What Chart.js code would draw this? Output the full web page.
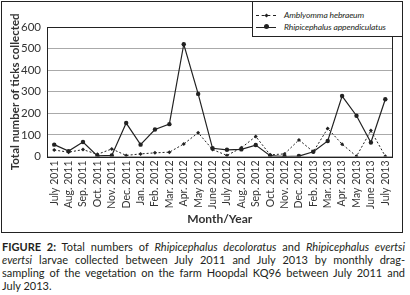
<!DOCTYPE html>
<html>
<head>
<meta charset="utf-8">
<script src="https://cdn.jsdelivr.net/npm/chart.js@4"></script>
<style>
  body { margin: 0; background: #fff; width: 410px; height: 295px; position: relative; overflow: hidden; font-family: Lato, sans-serif; color: #231f20; }
  #frame { position: absolute; left: 1px; top: 1px; width: 402px; height: 232px; box-sizing: border-box; border: 1px solid #222; }
  #frame canvas { position: absolute; left: 0; top: 0; }
  #legend { position: absolute; left: 252px; top: 1px; width: 151px; height: 36px; box-sizing: border-box; border: 1px solid #222; background: #fff; font-style: italic; font-size: 8.5px; letter-spacing: -0.1px; }
  .row { position: absolute; left: 3px; height: 10px; }
  .sample { position: absolute; left: 0; top: 4px; width: 20px; border-top: 1px solid #222; }
  .sample.dash { border-top-style: dashed; }
  .mark { position: absolute; left: 8px; top: 2px; width: 4px; height: 4px; background: #222; }
  .mark.dot { border-radius: 50%; width: 5px; height: 5px; top: 1px; }
  .mark.dia { transform: rotate(45deg); width: 3px; height: 3px; top: 3px; left: 9px; }
  .label { position: absolute; left: 28px; top: -1px; white-space: nowrap; }
  #caption { position: absolute; left: 2px; top: 240px; width: 403px; font-size: 11px; line-height: 13px; }
  #caption div { text-align: justify; text-align-last: justify; }
  #caption div.last { text-align-last: left; }
</style>
</head>
<body>
<div id="frame"><canvas id="ticks" width="400" height="230"></canvas></div>
<div id="legend">
  <div class="row" style="top:9px"><span class="sample dash"></span><span class="mark dia"></span><span class="label">Amblyomma hebraeum</span></div>
  <div class="row" style="top:21px"><span class="sample"></span><span class="mark dot"></span><span class="label">Rhipicephalus appendiculatus</span></div>
</div>
<div id="caption">
  <div><b>FIGURE 2:</b> Total numbers of <i>Rhipicephalus decoloratus</i> and <i>Rhipicephalus evertsi</i></div>
  <div><i>evertsi</i> larvae collected between July 2011 and July 2013 by monthly drag-</div>
  <div>sampling of the vegetation on the farm Hoopdal KQ96 between July 2011 and</div>
  <div class="last">July 2013.</div>
</div>
<script>
// month labels as printed on the x axis (no Jan. 2013 in the original)
var months = ['July 2011', 'Aug. 2011', 'Sep. 2011', 'Oct. 2011', 'Nov. 2011', 'Dec. 2011',
  'Jan. 2012', 'Feb. 2012', 'Mar. 2012', 'Apr. 2012', 'May 2012', 'June 2012',
  'July 2012', 'Aug. 2012', 'Sep. 2012', 'Oct. 2012', 'Nov. 2012', 'Dec. 2012',
  'Feb. 2013', 'Mar. 2013', 'Apr. 2013', 'May 2013', 'June 2013', 'July 2013'];
var amblyomma = [30, 20, 32, 10, 35, 5, 12, 17, 20, 58, 110, 32, 5, 40, 93, 8, 12, 77, 22, 130, 57, 1, 120, 1];
var rhipicephalus = [55, 25, 67, 3, 5, 155, 55, 125, 150, 520, 290, 38, 31, 33, 53, 4, 0, 2, 22, 72, 280, 189, 65, 265];
var yTicks = [0, 100, 200, 300, 400, 500, 600];

// black box round the plot area
var plotBox = {
  id: 'plotBox',
  beforeDatasetsDraw: function(chart) {
    var a = chart.chartArea, ctx = chart.ctx;
    ctx.save();
    ctx.strokeStyle = '#222';
    ctx.lineWidth = 1;
    ctx.strokeRect(Math.round(a.left) + 0.5, Math.round(a.top) + 0.5, Math.round(a.right - a.left), Math.round(a.bottom - a.top));
    ctx.restore();
  }
};

var chart = new Chart('ticks', {
  type: 'line',
  plugins: [plotBox],
  data: {
    labels: months,
    datasets: [
      {
        label: 'Amblyomma hebraeum',
        data: amblyomma,
        borderColor: '#222',
        backgroundColor: '#222',
        borderWidth: 1,
        borderDash: [2, 2],
        pointStyle: 'rectRot',
        pointRadius: 2,
        pointBorderWidth: 0,
        tension: 0
      },
      {
        label: 'Rhipicephalus appendiculatus',
        data: rhipicephalus,
        borderColor: '#222',
        backgroundColor: '#222',
        borderWidth: 1.2,
        pointStyle: 'circle',
        pointRadius: 2.2,
        pointBorderWidth: 0,
        tension: 0
      }
    ]
  },
  options: {
    responsive: false,
    animation: false,
    events: [],
    layout: { padding: { top: 25, right: 5, left: 0, bottom: 0 } },
    plugins: { legend: { display: false }, tooltip: { enabled: false } },
    scales: {
      x: {
        offset: true,
        grid: { display: false, drawTicks: false },
        border: { display: false },
        ticks: {
          autoSkip: false, minRotation: 90, maxRotation: 90, padding: 4,
          color: '#333', font: { family: 'Lato', size: 10.5 }
        },
        title: {
          display: true, text: 'Month/Year', color: '#333', padding: { top: 0, bottom: 6 },
          font: { family: 'Lato', size: 12, weight: 'bold' }
        },
        afterFit: function(scale) { scale.height = 75.5; }
      },
      y: {
        min: 0, max: 600,
        afterBuildTicks: function(scale) { scale.ticks = yTicks.map(function(v) { return { value: v }; }); },
        grid: { color: '#aaa', lineWidth: 1, drawTicks: false },
        border: { display: false },
        ticks: { padding: 6, color: '#333', font: { family: 'Lato', size: 11.5 } },
        title: {
          display: true, text: 'Total number of ticks collected', color: '#333', padding: { top: 6, bottom: 0 },
          font: { family: 'Lato', size: 11.5, weight: 'bold' }
        },
        afterFit: function(scale) { scale.width = 45; }
      }
    }
  }
});
</script>
</body>
</html>
